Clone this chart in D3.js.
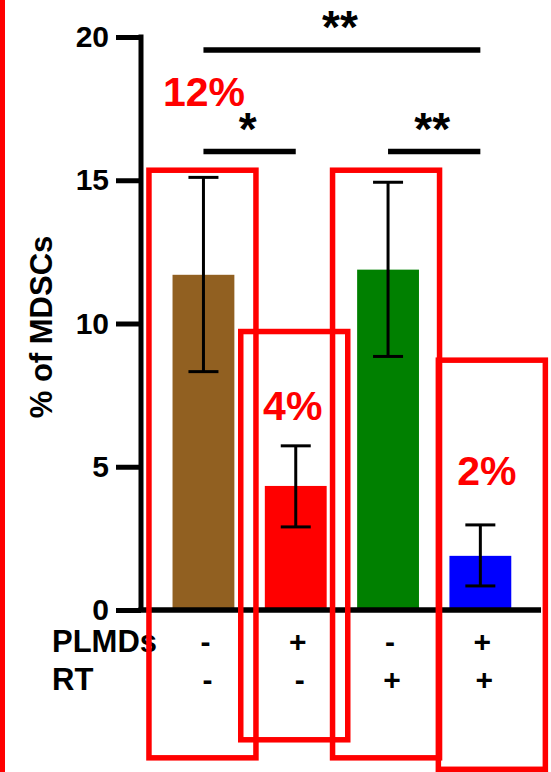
<!DOCTYPE html>
<html lang="en">
<head>
    <meta charset="UTF-8">
    <script src="https://d3js.org/d3.v7.min.js"></script>
    <title>MDSCs</title>
    <style>
        body { margin: 0; background: #fff; }
        text { font-family: "Liberation Sans", Arial, sans-serif; font-weight: bold; }
    </style>
</head>
<body>
    <svg id="barchart" width="551" height="772"></svg>

    <script>
        // data
        const groups = ["g1", "g2", "g3", "g4"];
        const means = [11.7, 4.33, 11.88, 1.89];
        const errLow = [8.32, 2.9, 8.85, 0.84];
        const errHigh = [15.1, 5.73, 14.93, 2.97];
        const barColors = ["#916021", "#ff0000", "#008000", "#0000ff"];
        const plmds = ["-", "+", "-", "+"];
        const rt = ["-", "-", "+", "+"];
        const pctLabels = ["12%", "4%", "", "2%"];
        const yTicks = [0, 5, 10, 15, 20];
        // significance: from bar, to bar, level, stars
        const sigFrom = [0, 0, 2];
        const sigTo = [3, 1, 3];
        const sigLevel = [19.55, 16.0, 16.0];
        const sigStars = ["**", "*", "**"];

        const svg = d3.select("svg#barchart");
        const axisX = 141;

        const yScale = d3.scaleLinear().domain([0, 20]).range([610, 37]);
        const xScale = d3.scaleBand().domain(groups).range([157.3, 526.5])
            .paddingInner(0.33).paddingOuter(0.165);
        const cx = i => xScale(groups[i]) + xScale.bandwidth() / 2;

        let chartArea = svg.append("g").attr("id", "bars");
        let annotations = svg.append("g").attr("id", "annotations");

        // bars
        chartArea.selectAll("rect.bar")
            .data(groups)
            .join("rect")
            .attr("class", "bar")
            .attr("x", d => xScale(d))
            .attr("width", xScale.bandwidth())
            .attr("y", (d, i) => yScale(means[i]))
            .attr("height", (d, i) => yScale(0) - yScale(means[i]))
            .attr("fill", (d, i) => barColors[i]);

        // error bars
        let errs = chartArea.selectAll("g.err").data(groups).join("g").attr("class", "err");
        errs.append("line")
            .attr("x1", (d, i) => cx(i)).attr("x2", (d, i) => cx(i))
            .attr("y1", (d, i) => yScale(errLow[i])).attr("y2", (d, i) => yScale(errHigh[i]))
            .attr("stroke", "#000").attr("stroke-width", 3);
        [errLow, errHigh].forEach(arr => {
            errs.append("line")
                .attr("x1", (d, i) => cx(i) - 15).attr("x2", (d, i) => cx(i) + 15)
                .attr("y1", (d, i) => yScale(arr[i])).attr("y2", (d, i) => yScale(arr[i]))
                .attr("stroke", "#000").attr("stroke-width", 3);
        });

        // Y axis
        let leftAxis = d3.axisLeft(yScale).tickValues(yTicks).tickSize(25).tickPadding(7).tickSizeOuter(0);
        let yAxisG = annotations.append("g")
            .attr("class", "y axis")
            .attr("transform", "translate(" + axisX + ",0)")
            .call(leftAxis);
        yAxisG.select(".domain").attr("stroke", "#000").attr("stroke-width", 5)
            .attr("d", "M0," + (yScale(20) - 2.5) + "V" + yScale(0));
        yAxisG.selectAll(".tick line").attr("stroke", "#000").attr("stroke-width", 5);
        yAxisG.selectAll(".tick text").attr("font-size", 30).attr("fill", "#000")
            .style("font-family", "'Liberation Sans', Arial, sans-serif").style("font-weight", "bold");

        // X axis line
        annotations.append("line")
            .attr("x1", axisX - 2.5).attr("x2", 541)
            .attr("y1", yScale(0)).attr("y2", yScale(0))
            .attr("stroke", "#000").attr("stroke-width", 5.5);

        // Y title
        annotations.append("text")
            .attr("transform", "translate(52," + 327 + ") rotate(-90)")
            .attr("text-anchor", "middle")
            .attr("font-size", 31)
            .text("% of MDSCs");

        // row labels
        annotations.append("text").attr("x", 52).attr("y", 652).attr("font-size", 31).text("PLMDs");
        annotations.append("text").attr("x", 52).attr("y", 690).attr("font-size", 31).text("RT");
        annotations.selectAll("text.plmds").data(plmds).join("text")
            .attr("class", "plmds")
            .attr("x", (d, i) => cx(i) + 2).attr("y", 652)
            .attr("text-anchor", "middle").attr("font-size", 30).text(d => d);
        annotations.selectAll("text.rt").data(rt).join("text")
            .attr("class", "rt")
            .attr("x", (d, i) => cx(i) + 4).attr("y", 690)
            .attr("text-anchor", "middle").attr("font-size", 30).text(d => d);

        // significance brackets
        sigFrom.forEach((f, k) => {
            annotations.append("line")
                .attr("x1", cx(f)).attr("x2", cx(sigTo[k]))
                .attr("y1", yScale(sigLevel[k])).attr("y2", yScale(sigLevel[k]))
                .attr("stroke", "#000").attr("stroke-width", 5.5);
            annotations.append("text")
                .attr("x", (cx(f) + cx(sigTo[k])) / 2 - 2)
                .attr("y", yScale(sigLevel[k]) - 7)
                .attr("text-anchor", "middle")
                .attr("font-size", 46)
                .text(sigStars[k]);
        });

        // percent labels
        const pctOffset = [[0.5, 17.6], [-3, 6.64], [0, 0], [6.5, 4.37]];
        annotations.selectAll("text.pct").data(pctLabels).join("text")
            .attr("class", "pct")
            .attr("x", (d, i) => cx(i) + pctOffset[i][0])
            .attr("y", (d, i) => yScale(pctOffset[i][1]))
            .attr("text-anchor", "middle")
            .attr("font-size", 41)
            .attr("fill", "#ff0000")
            .text(d => d);

        // red highlight boxes
        const boxDx = [-1, -1.5, -2, 11.5];
        const boxTop = [15.35, 9.72, 15.35, 8.72];
        const boxBottom = [-5.16, -4.53, -5.16, -5.56];
        annotations.selectAll("rect.hl").data(groups).join("rect")
            .attr("class", "hl")
            .attr("x", (d, i) => cx(i) + boxDx[i] - 53.5)
            .attr("width", 107)
            .attr("y", (d, i) => yScale(boxTop[i]))
            .attr("height", (d, i) => yScale(boxBottom[i]) - yScale(boxTop[i]))
            .attr("fill", "none")
            .attr("stroke", "#ff0000")
            .attr("stroke-width", 5.5);

        // left edge red line
        annotations.append("line")
            .attr("x1", 2.5).attr("x2", 2.5).attr("y1", 0).attr("y2", 772)
            .attr("stroke", "#ff0000").attr("stroke-width", 5);
    </script>
</body>
</html>
